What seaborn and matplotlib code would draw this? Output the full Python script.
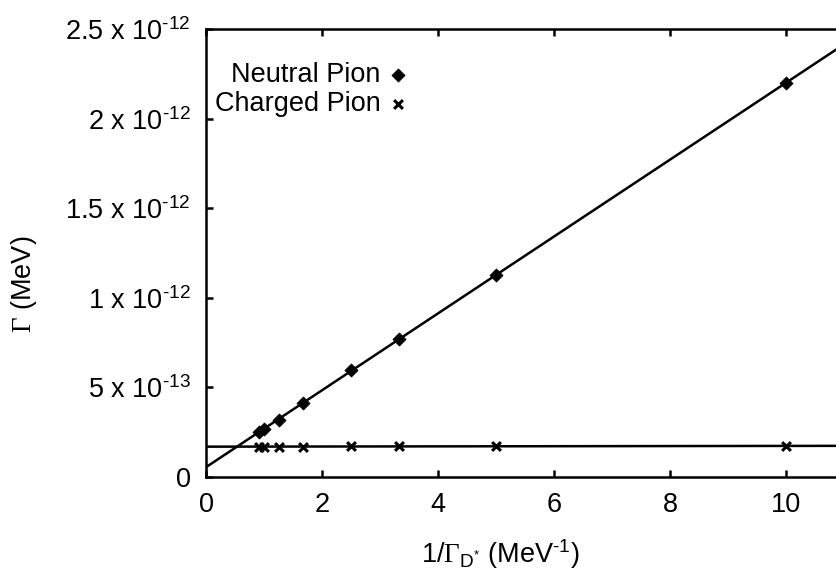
import numpy as np
import pandas as pd
import matplotlib
matplotlib.use("Agg")
import matplotlib.pyplot as plt
import seaborn as sns

# ---- data ----
inv_width = [0.909, 1.0, 1.25, 1.667, 2.5, 3.333, 5.0, 10.0]          # 1/Gamma_D* (MeV^-1)
neutral_pion = [0.250e-12, 0.268e-12, 0.320e-12, 0.413e-12,
                0.595e-12, 0.770e-12, 1.128e-12, 2.199e-12]          # Gamma (MeV)
charged_pion = [0.169e-12, 0.169e-12, 0.170e-12, 0.170e-12,
                0.171e-12, 0.171e-12, 0.172e-12, 0.173e-12]          # Gamma (MeV)
series_labels = ["Neutral Pion", "Charged Pion"]
x_ticks = [0, 2, 4, 6, 8, 10]
y_ticks = [0, 0.5e-12, 1.0e-12, 1.5e-12, 2.0e-12, 2.5e-12]
y_tick_labels = ["0", r"5 x 10$^{\text{-}13}$", r"1 x 10$^{\text{-}12}$",
                 r"1.5 x 10$^{\text{-}12}$", r"2 x 10$^{\text{-}12}$",
                 r"2.5 x 10$^{\text{-}12}$"]
x_label = r"1/$\mathsf{\Gamma}_{\mathrm{D}^{*}}$ (MeV$^{\text{-}1}$)"
y_label = r"$\mathsf{\Gamma}$ (MeV)"

df = pd.DataFrame({"x": inv_width, "neutral": neutral_pion, "charged": charged_pion})

# ---- style ----
sns.set_theme(style="ticks")
plt.rcParams["font.family"] = ["Liberation Sans", "DejaVu Sans"]
plt.rcParams["mathtext.fontset"] = "custom"
plt.rcParams["mathtext.rm"] = "Liberation Sans"
plt.rcParams["mathtext.it"] = "Liberation Sans:italic"
plt.rcParams["mathtext.bf"] = "Liberation Sans:bold"
plt.rcParams["mathtext.sf"] = "Liberation Serif"
for k in ["text.color", "axes.labelcolor", "xtick.color", "ytick.color", "axes.edgecolor"]:
    plt.rcParams[k] = "black"

FS = 19.5
LW = 1.8
fig = plt.figure(figsize=(8.36, 5.82), dpi=100)
ax = fig.add_axes([206 / 836, 105 / 582, 630 / 836, 448 / 582])
ax.set_xlim(0, 10.862)
ax.set_ylim(0, 2.5e-12)

# fit lines (extended across the axes)
sns.regplot(data=df, x="x", y="neutral", ax=ax, scatter=False, ci=None,
            truncate=False, line_kws=dict(color="black", lw=LW))
sns.regplot(data=df, x="x", y="charged", ax=ax, scatter=False, ci=None,
            truncate=False, line_kws=dict(color="black", lw=LW))

# points
sns.scatterplot(data=df, x="x", y="neutral", ax=ax, marker="D", s=45,
                color="black", edgecolor="black", linewidth=0.5,
                label=series_labels[0], zorder=3)
sns.scatterplot(data=df, x="x", y="charged", ax=ax, marker="x", s=40,
                color="black", linewidth=2.2, label=series_labels[1], zorder=3)

ax.set_xlim(0, 10.862)
ax.set_ylim(0, 2.5e-12)
ax.set_xticks(x_ticks)
ax.set_xticklabels([str(t) for t in x_ticks])
ax.set_yticks(y_ticks)
ax.set_yticklabels(y_tick_labels)

ax.tick_params(axis="both", direction="in", length=5, width=LW,
               labelsize=FS, colors="black", pad=11)
ax.tick_params(axis="x", top=True, bottom=True)
ax.tick_params(axis="y", left=True, right=False)
for side in ["left", "bottom", "top"]:
    ax.spines[side].set_linewidth(LW)
    ax.spines[side].set_color("black")
ax.spines["right"].set_visible(False)

ax.set_xlabel(x_label, fontsize=FS)
ax.set_ylabel(y_label, fontsize=FS)
ax.xaxis.set_label_coords(0.467, -0.134)
ax.yaxis.set_label_coords(-0.265, 0.43)

leg = ax.legend(loc="upper left", bbox_to_anchor=(0.0143, 0.926), frameon=False,
                markerfirst=False, handlelength=0.8, handletextpad=0.22,
                labelspacing=0.1, borderpad=0, borderaxespad=0, fontsize=FS)
for col in leg._legend_handle_box.get_children():
    col.align = "right"
for t in leg.get_texts():
    t.set_color("black")

fig.savefig("out.png", dpi=100)
